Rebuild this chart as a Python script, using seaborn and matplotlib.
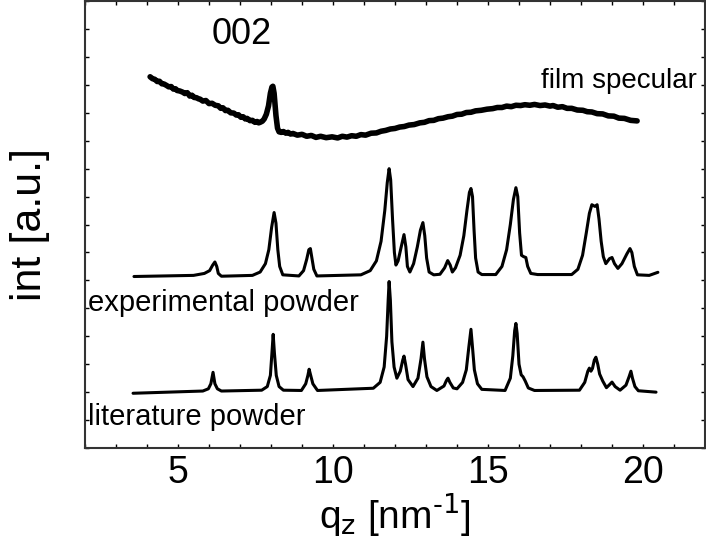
import numpy as np
import pandas as pd
import seaborn as sns
import matplotlib.pyplot as plt
from matplotlib.ticker import MultipleLocator

# data (q_z in nm^-1, intensity in arbitrary offset units)
film_q = [4.10, 4.18, 4.25, 4.33, 4.40, 4.48, 4.55, 4.63, 4.70, 4.78, 4.85, 4.92, 4.97,
          5.06, 5.15, 5.22, 5.30, 5.38, 5.45, 5.52, 5.60, 5.66, 5.71, 5.80, 5.90, 6.00,
          6.10, 6.20, 6.30, 6.38, 6.45, 6.53, 6.61, 6.70, 6.80, 6.88, 6.95, 7.03, 7.10,
          7.17, 7.23, 7.32, 7.40, 7.48, 7.55, 7.60, 7.65, 7.72, 7.78, 7.85, 7.92, 7.98,
          8.03, 8.06, 8.10, 8.16, 8.21, 8.26, 8.33, 8.40, 8.48, 8.55, 8.63, 8.71, 8.85,
          9.00, 9.15, 9.30, 9.45, 9.60, 9.78, 9.97, 10.15, 10.30, 10.45, 10.60, 10.75,
          10.90, 11.05, 11.23, 11.40, 11.55, 11.70, 11.85, 12.00, 12.15, 12.30, 12.45,
          12.62, 12.80, 12.95, 13.10, 13.25, 13.40, 13.55, 13.71, 13.85, 14.00, 14.15,
          14.30, 14.45, 14.60, 14.78, 14.97, 15.15, 15.30, 15.45, 15.60, 15.75, 15.90,
          16.05, 16.19, 16.35, 16.50, 16.68, 16.84, 17.00, 17.10, 17.25, 17.40, 17.55,
          17.70, 17.88, 18.06, 18.20, 18.35, 18.52, 18.70, 18.88, 19.06, 19.22, 19.40,
          19.60, 19.81]
film_i = [13.29, 13.22, 13.20, 13.12, 13.13, 13.04, 13.03, 12.98, 12.93, 12.94, 12.85,
          12.86, 12.80, 12.78, 12.74, 12.69, 12.72, 12.60, 12.63, 12.55, 12.54, 12.50,
          12.49, 12.42, 12.44, 12.33, 12.34, 12.27, 12.25, 12.16, 12.18, 12.08, 12.09,
          12.00, 11.99, 11.92, 11.93, 11.84, 11.86, 11.78, 11.80, 11.72, 11.73, 11.66,
          11.69, 11.64, 11.66, 11.70, 11.78, 11.95, 12.25, 12.70, 12.92, 12.95, 12.70,
          11.90, 11.45, 11.32, 11.30, 11.33, 11.27, 11.30, 11.24, 11.26, 11.20, 11.23,
          11.16, 11.19, 11.12, 11.16, 11.11, 11.14, 11.10, 11.16, 11.13, 11.18, 11.16,
          11.22, 11.20, 11.27, 11.28, 11.34, 11.37, 11.42, 11.44, 11.49, 11.51, 11.56,
          11.58, 11.64, 11.66, 11.72, 11.73, 11.79, 11.81, 11.86, 11.88, 11.94, 11.95,
          12.01, 12.02, 12.07, 12.09, 12.13, 12.15, 12.19, 12.19, 12.24, 12.22, 12.27,
          12.26, 12.29, 12.27, 12.30, 12.26, 12.28, 12.24, 12.26, 12.20, 12.22, 12.16,
          12.16, 12.10, 12.09, 12.04, 12.03, 11.97, 11.96, 11.89, 11.88, 11.81, 11.80,
          11.73, 11.71]

exp_q = [3.58, 5.50, 5.85, 6.02, 6.12, 6.19, 6.25, 6.30, 6.40, 7.40, 7.65, 7.82, 7.93,
         8.02, 8.10, 8.16, 8.22, 8.28, 8.38, 8.90, 9.05, 9.15, 9.22, 9.27, 9.32, 9.38,
         9.48, 10.90, 11.20, 11.40, 11.55, 11.67, 11.75, 11.81, 11.86, 11.92, 11.98,
         12.03, 12.10, 12.20, 12.29, 12.35, 12.40, 12.48, 12.60, 12.72, 12.82, 12.90,
         12.96, 13.02, 13.10, 13.25, 13.45, 13.60, 13.70, 13.78, 13.85, 13.95, 14.10,
         14.22, 14.32, 14.40, 14.45, 14.50, 14.55, 14.60, 14.68, 14.80, 15.25, 15.45,
         15.60, 15.72, 15.82, 15.90, 15.96, 16.02, 16.08, 16.15, 16.22, 16.28, 16.38,
         16.60, 17.70, 17.90, 18.05, 18.17, 18.27, 18.35, 18.45, 18.52, 18.58, 18.65,
         18.72, 18.80, 18.92, 19.00, 19.08, 19.19, 19.32, 19.48, 19.58, 19.64, 19.72,
         19.82, 20.20, 20.48]
exp_i = [6.14, 6.18, 6.25, 6.35, 6.55, 6.66, 6.50, 6.25, 6.15, 6.18, 6.30, 6.60, 7.10,
         7.90, 8.43, 8.05, 7.10, 6.50, 6.20, 6.16, 6.35, 6.75, 7.10, 7.14, 6.80, 6.40,
         6.16, 6.20, 6.35, 6.70, 7.40, 8.50, 9.50, 10.00, 9.60, 8.20, 7.00, 6.55, 6.70,
         7.20, 7.64, 7.20, 6.50, 6.30, 6.60, 7.20, 7.80, 8.07, 7.60, 6.80, 6.30, 6.20,
         6.22, 6.45, 6.71, 6.55, 6.30, 6.45, 6.90, 7.60, 8.50, 9.15, 9.29, 9.00, 7.80,
         6.80, 6.30, 6.21, 6.21, 6.50, 7.10, 8.00, 8.90, 9.32, 9.00, 7.70, 6.90, 6.85,
         6.82, 6.50, 6.25, 6.21, 6.21, 6.40, 6.90, 7.70, 8.40, 8.71, 8.65, 8.71, 8.20,
         7.40, 6.85, 6.60, 6.78, 6.82, 6.60, 6.43, 6.60, 6.95, 7.14, 7.00, 6.50, 6.20,
         6.18, 6.29]

lit_q = [3.55, 5.80, 5.98, 6.06, 6.13, 6.19, 6.27, 6.40, 7.70, 7.88, 7.98, 8.03, 8.07,
         8.11, 8.17, 8.26, 8.40, 8.98, 9.12, 9.19, 9.23, 9.28, 9.35, 9.50, 11.30, 11.52,
         11.65, 11.73, 11.78, 11.81, 11.85, 11.90, 11.97, 12.06, 12.17, 12.25, 12.29,
         12.34, 12.42, 12.58, 12.74, 12.84, 12.90, 12.95, 13.03, 13.16, 13.35, 13.58,
         13.66, 13.71, 13.77, 13.88, 14.00, 14.18, 14.30, 14.38, 14.45, 14.50, 14.56,
         14.66, 14.80, 15.55, 15.72, 15.80, 15.86, 15.90, 15.94, 16.00, 16.07, 16.13,
         16.20, 16.30, 16.50, 17.95, 18.12, 18.22, 18.27, 18.32, 18.37, 18.43, 18.48,
         18.54, 18.60, 18.70, 18.82, 18.93, 19.00, 19.10, 19.26, 19.45, 19.55, 19.61,
         19.66, 19.74, 19.85, 20.42]
lit_i = [1.96, 2.04, 2.12, 2.30, 2.71, 2.30, 2.12, 2.04, 2.07, 2.20, 2.60, 3.40, 4.07,
         3.40, 2.60, 2.20, 2.07, 2.06, 2.30, 2.60, 2.82, 2.60, 2.30, 2.06, 2.14, 2.35,
         2.90, 4.00, 5.30, 5.96, 5.30, 3.80, 2.90, 2.50, 2.75, 3.15, 3.29, 3.00, 2.45,
         2.20, 2.50, 3.20, 3.79, 3.20, 2.55, 2.20, 2.06, 2.22, 2.42, 2.50, 2.35, 2.15,
         2.12, 2.35, 2.80, 3.60, 4.25, 3.60, 2.80, 2.30, 2.10, 2.06, 2.50, 3.30, 4.20,
         4.46, 4.10, 3.00, 2.62, 2.55, 2.40, 2.15, 2.06, 2.07, 2.35, 2.75, 2.86, 2.75,
         2.85, 3.15, 3.25, 3.00, 2.65, 2.40, 2.16, 2.28, 2.36, 2.20, 2.07, 2.25, 2.55,
         2.75, 2.50, 2.20, 2.05, 2.00]

sns.set_style("ticks")
plt.rcParams['font.family'] = ['Liberation Sans', 'DejaVu Sans']
plt.rcParams['text.color'] = 'black'
plt.rcParams['axes.labelcolor'] = 'black'
plt.rcParams['xtick.color'] = 'black'
plt.rcParams['ytick.color'] = 'black'

fig = plt.figure(figsize=(7.06, 5.39), dpi=100)
ax = fig.add_axes([0.1204, 0.1688, 0.8782, 0.8292])

sns.lineplot(x=film_q, y=film_i, ax=ax, color='black', lw=4.0, sort=False, estimator=None)
sns.lineplot(x=exp_q, y=exp_i, ax=ax, color='black', lw=2.2, sort=False, estimator=None)
sns.lineplot(x=lit_q, y=lit_i, ax=ax, color='black', lw=2.2, sort=False, estimator=None)

ax.text(7.06, 14.8, "002", fontsize=26, ha='center', va='center')
ax.text(21.75, 13.15, "film specular", fontsize=20, ha='right', va='center')
ax.text(2.1, 5.2, "experimental powder", fontsize=21, ha='left', va='center')
ax.text(2.1, 1.1, "literature powder", fontsize=21, ha='left', va='center')

ax.set_xlim(2, 22)
ax.set_ylim(0, 16)
ax.xaxis.set_major_locator(MultipleLocator(5))
ax.xaxis.set_minor_locator(MultipleLocator(1))
ax.yaxis.set_major_locator(MultipleLocator(1))
ax.set_yticklabels([])
ax.tick_params(which='both', direction='in', top=True, right=True, length=3, width=1,
               labelsize=27, pad=5)
for s in ax.spines.values():
    s.set_linewidth(1.5)
    s.set_color('#333333')

ax.set_xlabel(r"q$_\mathrm{z}$ [nm$^{\text{-}1}$]", fontsize=28, labelpad=0)
ax.set_ylabel("int [a.u.]", fontsize=31, labelpad=20)

plt.savefig('out.png', dpi=100)
